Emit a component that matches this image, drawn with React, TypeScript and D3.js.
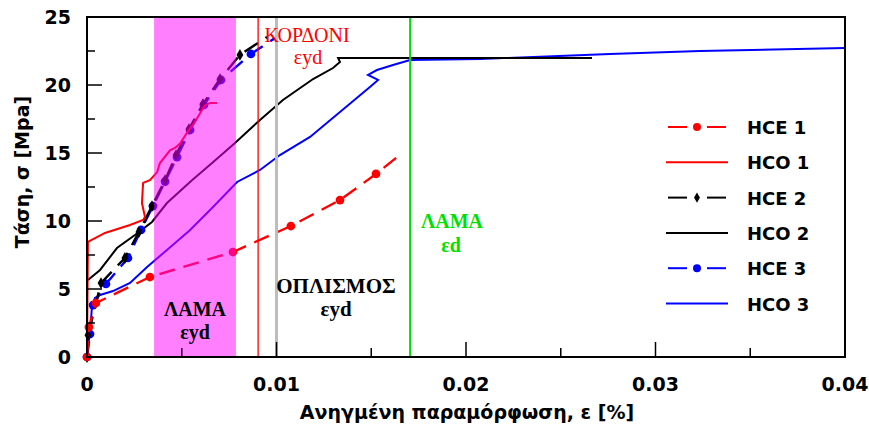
import React, { useEffect, useRef } from "react";
import * as d3 from "d3";

// strain [%] / stress [MPa]
const hce1X = [0, 0.0001, 0.00047, 0.00332, 0.0077, 0.01076, 0.01335, 0.01525, 0.01636];
const hce1Y = [0, 2.2, 3.97, 5.88, 7.72, 9.63, 11.54, 13.46, 14.7];

const hco1X = [0, 0.00005, 0.00095, 0.00227, 0.00296, 0.00306, 0.0029, 0.00296, 0.00332, 0.0037, 0.00385, 0.00438, 0.00464, 0.00491, 0.00528, 0.00559, 0.00607, 0.00623, 0.00649, 0.00686];
const hco1Y = [0, 8.46, 9.12, 9.71, 10.07, 10.29, 11.32, 12.8, 13.0, 13.6, 14.26, 15.2, 15.37, 15.7, 16.5, 17.06, 18.16, 18.5, 18.68, 18.68];

const hce2X = [0, 0.00005, 0.00074, 0.002, 0.00274, 0.00343, 0.00412, 0.0047, 0.00538, 0.00612, 0.00702, 0.00807, 0.0095];
const hce2Y = [0, 1.6, 5.44, 7.28, 9.19, 11.1, 13.01, 14.85, 16.76, 18.6, 20.44, 22.21, 23.53];

const hco2X = [0.00005, 0.00069, 0.00158, 0.00253, 0.00343, 0.00422, 0.00554, 0.0066, 0.00781, 0.00913, 0.01034, 0.01193, 0.01298, 0.01335, 0.01325, 0.01361, 0.02665];
const hco2Y = [5.66, 6.4, 8.01, 8.97, 9.93, 11.32, 13.0, 14.26, 15.74, 17.43, 18.9, 20.44, 21.25, 21.69, 21.99, 21.99, 21.99];

const hce3X = [0, 0.00016, 0.00032, 0.001, 0.00216, 0.00285, 0.00348, 0.00412, 0.00475, 0.00544, 0.00617, 0.00707, 0.00865, 0.00992];
const hce3Y = [0, 1.69, 3.82, 5.37, 7.28, 9.34, 11.1, 12.9, 14.7, 16.69, 18.53, 20.37, 22.28, 23.46];

const hco3X = [0, 0.0001, 0.00016, 0.00026, 0.00042, 0.00069, 0.00137, 0.00227, 0.00317, 0.00422, 0.00544, 0.00665, 0.00792, 0.00913, 0.01018, 0.01177, 0.01493, 0.01536, 0.01483, 0.0153, 0.01615, 0.01705, 0.02074, 0.0276, 0.03235, 0.04];
const hco3Y = [0, 1.25, 1.76, 3.68, 4.34, 4.56, 4.85, 5.44, 6.62, 7.87, 9.34, 11.03, 12.87, 13.75, 14.85, 16.18, 19.85, 20.37, 20.74, 21.1, 21.47, 21.84, 21.91, 22.28, 22.5, 22.72];

// reference strains
const bandStart = 0.00354, bandEnd = 0.00786; // ΛΑΜΑ εyd
const strandYield = 0.00903; // ΚΟΡΔΟΝΙ εyd
const rebarYield = 0.01; // ΟΠΛΙΣΜΟΣ εyd
const plateStrain = 0.01705; // ΛΑΜΑ εd

const xTicks = [0, 0.01, 0.02, 0.03, 0.04];
const xTickLabels = ["0", "0.01", "0.02", "0.03", "0.04"];
const yTicks = [0, 5, 10, 15, 20, 25];
const yTickLabels = ["0", "5", "10", "15", "20", "25"];

const seriesNames = ["HCE 1", "HCO 1", "HCE 2", "HCO 2", "HCE 3", "HCO 3"];

const App = () => {
  const ref = useRef<SVGSVGElement>(null);

  useEffect(() => {
    const W = 869, H = 426;
    const left = 87, right = 845, top = 17, bottom = 357;
    const svg = d3.select(ref.current);
    svg.selectAll("*").remove();
    svg.append("rect").attr("width", W).attr("height", H).attr("fill", "#fff");

    const x = d3.scaleLinear().domain([0, 0.04]).range([left, right]);
    const y = d3.scaleLinear().domain([0, 25]).range([bottom, top]);
    const sans = "'DejaVu Sans', Verdana, sans-serif";
    const serif = "'Liberation Serif', 'Times New Roman', serif";

    const line = d3.line<[number, number]>().x(d => x(d[0])).y(d => y(d[1]));
    const zip = (xs: number[], ys: number[]) => xs.map((v, i) => [v, ys[i]] as [number, number]);

    const series = [
      { name: "HCO 3", pts: zip(hco3X, hco3Y), color: "#0000ff", dash: null, marker: null },
      { name: "HCO 2", pts: zip(hco2X, hco2Y), color: "#000", dash: null, marker: null },
      { name: "HCE 3", pts: zip(hce3X, hce3Y), color: "#0000ff", dash: "16,9", marker: "circle" },
      { name: "HCE 2", pts: zip(hce2X, hce2Y), color: "#000", dash: "16,9", marker: "diamond" },
      { name: "HCO 1", pts: zip(hco1X, hco1Y), color: "#ff0000", dash: null, marker: null },
      { name: "HCE 1", pts: zip(hce1X, hce1Y), color: "#ff0000", dash: "16,9", marker: "circle" },
    ];

    const plot = svg.append("g");
    series.forEach(s => {
      plot.append("path")
        .attr("d", line(s.pts))
        .attr("fill", "none")
        .attr("stroke", s.color)
        .attr("stroke-width", s.dash ? 2.4 : 2)
        .attr("stroke-dasharray", s.dash);
      if (s.marker) {
        const sym = d3.symbol().type(s.marker === "circle" ? d3.symbolCircle : d3.symbolDiamond).size(s.marker === "circle" ? 60 : 40);
        plot.selectAll(null)
          .data(s.pts.slice(0, -1))
          .enter()
          .append("path")
          .attr("d", sym)
          .attr("transform", d => `translate(${x(d[0])},${y(d[1])})`)
          .attr("fill", s.color);
      }
    });

    // reference lines
    plot.append("line").attr("x1", x(rebarYield)).attr("x2", x(rebarYield)).attr("y1", top).attr("y2", bottom)
      .attr("stroke", "#bdbdbd").attr("stroke-width", 3);
    plot.append("line").attr("x1", x(strandYield)).attr("x2", x(strandYield)).attr("y1", top).attr("y2", bottom)
      .attr("stroke", "#ff0000").attr("stroke-width", 1.3);
    plot.append("line").attr("x1", x(plateStrain)).attr("x2", x(plateStrain)).attr("y1", top).attr("y2", bottom)
      .attr("stroke", "#00e000").attr("stroke-width", 2);

    // magenta band, semi-transparent over the curves
    plot.append("rect")
      .attr("x", x(bandStart)).attr("y", top)
      .attr("width", x(bandEnd) - x(bandStart)).attr("height", bottom - top)
      .attr("fill", "#ff00ff").attr("opacity", 0.5);

    // annotations
    const note = (txt: string, cx: number, cy: number, color: string, bold: boolean, size: number) =>
      svg.append("text").attr("x", cx).attr("y", cy).attr("text-anchor", "middle")
        .attr("font-family", serif).attr("font-size", size).attr("font-weight", bold ? "bold" : "normal")
        .attr("fill", color).text(txt);
    note("ΚΟΡΔΟΝΙ", 307, 42, "#ff0000", false, 20);
    note("εyd", 308, 64, "#ff0000", false, 20);
    note("ΛΑΜΑ", 195, 316, "#000", true, 20);
    note("εyd", 195, 339, "#000", true, 20);
    note("ΟΠΛΙΣΜΟΣ", 336, 293, "#000", true, 21);
    note("εyd", 336, 316, "#000", true, 21);
    note("ΛΑΜΑ", 452, 228, "#00e000", true, 20);
    note("εd", 451, 252, "#00e000", true, 20);

    // frame
    svg.append("rect").attr("x", left).attr("y", top).attr("width", right - left).attr("height", bottom - top)
      .attr("fill", "none").attr("stroke", "#000").attr("stroke-width", 2);

    // ticks (inward)
    const axes = svg.append("g").attr("stroke", "#000").attr("stroke-width", 1.5);
    d3.range(0, 25.01, 2.5).forEach(v => {
      const major = v % 5 === 0;
      axes.append("line").attr("x1", left).attr("x2", left + (major ? 15 : 8)).attr("y1", y(v)).attr("y2", y(v));
    });
    d3.range(0, 0.0401, 0.005).forEach((v, i) => {
      const major = i % 2 === 0;
      axes.append("line").attr("x1", x(v)).attr("x2", x(v)).attr("y1", bottom).attr("y2", bottom - (major ? 15 : 9));
    });

    svg.append("g").selectAll("text").data(yTicks).enter().append("text")
      .attr("x", 71).attr("y", d => y(d) + 7).attr("text-anchor", "end")
      .attr("font-family", sans).attr("font-weight", "bold").attr("font-size", 19).attr("fill", "#000")
      .text((d, i) => yTickLabels[i]);
    svg.append("g").selectAll("text").data(xTicks).enter().append("text")
      .attr("x", d => x(d)).attr("y", 391).attr("text-anchor", "middle")
      .attr("font-family", sans).attr("font-weight", "bold").attr("font-size", 19).attr("fill", "#000")
      .text((d, i) => xTickLabels[i]);

    svg.append("text").attr("x", 467).attr("y", 419).attr("text-anchor", "middle")
      .attr("font-family", sans).attr("font-weight", "bold").attr("font-size", 19).attr("fill", "#000")
      .text("Ανηγμένη παραμόρφωση, ε [%]");
    svg.append("text").attr("transform", "translate(29,172) rotate(-90)").attr("text-anchor", "middle")
      .attr("font-family", sans).attr("font-weight", "bold").attr("font-size", 19).attr("fill", "#000")
      .text("Τάση, σ [Mpa]");

    // legend
    const legendStyle: Record<string, { color: string; dash: boolean; marker: string | null }> = {
      "HCE 1": { color: "#ff0000", dash: true, marker: "circle" },
      "HCO 1": { color: "#ff0000", dash: false, marker: null },
      "HCE 2": { color: "#000", dash: true, marker: "diamond" },
      "HCO 2": { color: "#000", dash: false, marker: null },
      "HCE 3": { color: "#0000ff", dash: true, marker: "circle" },
      "HCO 3": { color: "#0000ff", dash: false, marker: null },
    };
    const leg = svg.append("g");
    seriesNames.forEach((name, i) => {
      const st = legendStyle[name];
      const ly = 127 + i * 35.3;
      if (st.dash) {
        leg.append("line").attr("x1", 668).attr("x2", 687).attr("y1", ly).attr("y2", ly).attr("stroke", st.color).attr("stroke-width", 2);
        leg.append("line").attr("x1", 707).attr("x2", 726).attr("y1", ly).attr("y2", ly).attr("stroke", st.color).attr("stroke-width", 2);
        const sym = d3.symbol().type(st.marker === "circle" ? d3.symbolCircle : d3.symbolDiamond).size(st.marker === "circle" ? 50 : 30);
        leg.append("path").attr("d", sym()).attr("transform", `translate(697,${ly})`).attr("fill", st.color);
      } else {
        leg.append("line").attr("x1", 666).attr("x2", 728).attr("y1", ly).attr("y2", ly).attr("stroke", st.color).attr("stroke-width", 2);
      }
      leg.append("text").attr("x", 747).attr("y", ly + 7).attr("font-family", sans).attr("font-weight", "bold")
        .attr("font-size", 18).attr("fill", "#000").text(name);
    });
  }, []);

  return (
    <svg ref={ref} width={869} height={426} style={{ position: "absolute", left: 0, top: 0 }} />
  );
};

export default App;
